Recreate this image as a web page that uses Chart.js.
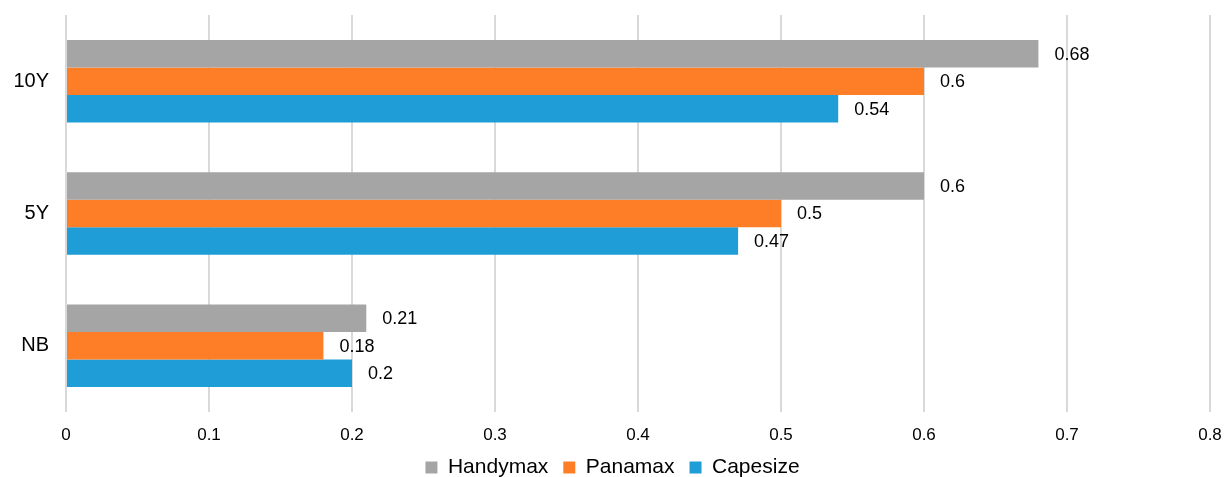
<!DOCTYPE html>
<html>
<head>
<meta charset="utf-8">
<script src="https://cdn.jsdelivr.net/npm/chart.js@4/dist/chart.umd.min.js"></script>
<style>
  html, body { margin: 0; padding: 0; background: #fff; }
  #wrap { width: 1225px; height: 477px; }
</style>
</head>
<body>
<div id="wrap"><canvas id="bar-chart"></canvas></div>
<script>
const categories = ['10Y', '5Y', 'NB'];
const handymax = [0.68, 0.6, 0.21];
const panamax = [0.6, 0.5, 0.18];
const capesize = [0.54, 0.47, 0.2];

Chart.defaults.font.family = '"Liberation Sans", Arial, sans-serif';
Chart.defaults.color = '#000';

// draw the value next to each bar end
const valueLabels = {
    id: 'valueLabels',
    afterDatasetsDraw(chart) {
        const ctx = chart.ctx;
        ctx.save();
        ctx.font = '18px "Liberation Sans", Arial, sans-serif';
        ctx.fillStyle = '#000';
        ctx.textBaseline = 'middle';
        ctx.textAlign = 'left';
        chart.data.datasets.forEach((ds, i) => {
            const meta = chart.getDatasetMeta(i);
            meta.data.forEach((bar, j) => {
                ctx.fillText(String(ds.data[j]), bar.x + 16, bar.y + 1);
            });
        });
        ctx.restore();
    }
};

new Chart(document.getElementById('bar-chart'), {
    type: 'bar',
    data: {
        labels: categories,
        datasets: [
            { label: 'Handymax', data: handymax, backgroundColor: '#A5A5A5' },
            { label: 'Panamax', data: panamax, backgroundColor: '#FD7E26' },
            { label: 'Capesize', data: capesize, backgroundColor: '#1E9DD7' }
        ]
    },
    options: {
        indexAxis: 'y',
        responsive: true,
        maintainAspectRatio: false,
        animation: false,
        datasets: {
            bar: { categoryPercentage: 0.624, barPercentage: 1.0, borderWidth: 0 }
        },
        layout: { padding: { top: 15, right: 0, left: 0, bottom: -11 } },
        plugins: {
            tooltip: { enabled: false },
            legend: {
                position: 'bottom',
                labels: {
                    boxWidth: 12,
                    boxHeight: 12,
                    padding: 15,
                    font: { size: 21 },
                    color: '#000'
                }
            }
        },
        scales: {
            x: {
                min: 0,
                max: 0.8,
                ticks: {
                    stepSize: 0.1,
                    padding: 13,
                    font: { size: 17 },
                    color: '#000'
                },
                grid: {
                    color: '#D9D9D9',
                    lineWidth: 2,
                    drawTicks: false
                },
                border: { display: false },
                afterFit(scale) {
                    scale.height = 30;
                    scale.paddingLeft = 0;
                    scale.paddingRight = 15;
                }
            },
            y: {
                ticks: {
                    padding: 17,
                    font: { size: 20 },
                    color: '#000'
                },
                grid: { display: false, drawTicks: false },
                border: { display: false },
                afterFit(scale) {
                    scale.width = 66;
                    scale.paddingTop = 0;
                    scale.paddingBottom = 0;
                }
            }
        }
    },
    plugins: [valueLabels]
});
</script>
</body>
</html>
